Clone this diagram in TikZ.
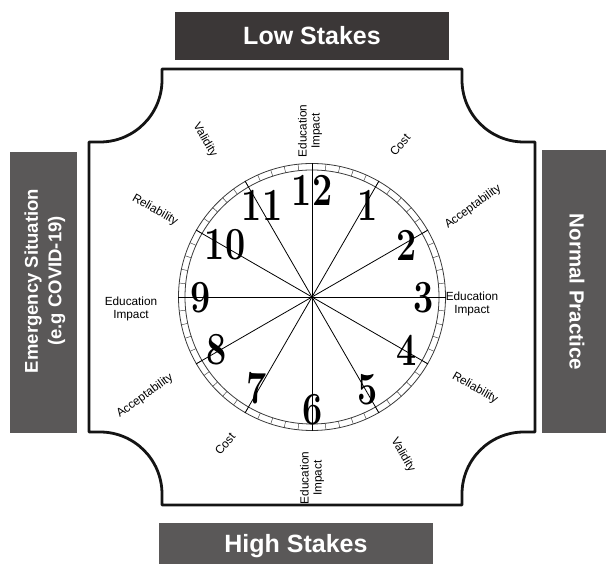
\documentclass[tikz,border=0pt]{standalone}
\usepackage{fontspec}
\usepackage{graphicx}
\newfontfamily\arial{Liberation Sans}
\definecolor{darkbox}{HTML}{3B3737}
\definecolor{greybox}{HTML}{5A5858}
\definecolor{ringcol}{HTML}{3A3A3A}
\tikzset{
  frameline/.style={line width=2.8pt, black!92, line join=round},
  crit/.style={font=\arial\fontsize{11.8}{13}\selectfont, align=center, inner sep=0pt},
  hournum/.style={font=\fontsize{46}{46}\selectfont\bfseries, inner sep=0pt},
  stakebox/.style={draw=none, text=white, font=\arial\bfseries\fontsize{25}{25}\selectfont,
                   text height=18pt, text depth=0pt, inner sep=0pt},
  sidebox/.style={fill=greybox, draw=none, inner sep=0pt},
  sidetext/.style={text=white, font=\arial\bfseries, align=center, inner sep=0pt},
  spoke/.style={line width=0.8pt, black},
  ringline/.style={line width=0.8pt, ringcol},
  ringtick/.style={line width=0.45pt, ringcol},
}
\begin{document}
\begin{tikzpicture}[x=1pt,y=1pt]
\useasboundingbox (0,0) rectangle (606,564);

% outer frame with concave corners
\draw[frameline] (162,495) -- (462,495) -- (462,484)
  arc[start angle=180, end angle=270, radius=62] -- (535,422) -- (535,132) -- (524,132)
  arc[start angle=90, end angle=180, radius=62] -- (462,59) -- (162,59) -- (162,70)
  arc[start angle=0, end angle=90, radius=62] -- (89,132) -- (89,422) -- (100,422)
  arc[start angle=270, end angle=360, radius=62] -- cycle;

% stake boxes
\node[stakebox, fill=darkbox, minimum width=274pt, minimum height=48pt] (low) at (312,528) {Low Stakes};
\node[stakebox, fill=greybox, minimum width=274pt, minimum height=41pt] (high) at (296,20.5) {High Stakes};

% side boxes
\node[sidebox, minimum width=67pt, minimum height=281pt] (leftbox) at (43.5,271.5) {};
\node[sidetext, rotate=90, font=\arial\bfseries\fontsize{18.5}{23.5}\selectfont] (lefttext) at (45,283) {Emergency Situation\\(e.g COVID-19)};
\node[sidebox, minimum width=66pt, minimum height=283pt] (rightbox) at (575,272.5) {};
\node[sidetext, rotate=-90, font=\arial\bfseries\fontsize{20.5}{24}\selectfont] (righttext) at (577,272) {Normal Practice};

% clock
\coordinate (c) at (312,267);
\begin{scope}[shift={(c)}]
  \draw[ringline] (0,0) circle[radius=133.5];
  \draw[ringline] (0,0) circle[radius=127];
  \foreach \i in {0,...,59} \draw[ringtick] (\i*6:127) -- (\i*6:133.5);
  \foreach \i in {0,...,11} \draw[spoke] (0,0) -- (\i*30:134);
\end{scope}

% hour numbers
\node[hournum] (h12) at (312,374) {\scalebox{0.78}[1]{12}};
\node[hournum] (h1)  at (368,359) {\scalebox{0.78}[1]{1}};
\node[hournum] (h2)  at (407,319) {\scalebox{0.78}[1]{2}};
\node[hournum] (h3)  at (424,266) {\scalebox{0.78}[1]{3}};
\node[hournum] (h4)  at (407,214) {\scalebox{0.78}[1]{4}};
\node[hournum] (h5)  at (368,174) {\scalebox{0.78}[1]{5}};
\node[hournum] (h6)  at (313,154) {\scalebox{0.78}[1]{6}};
\node[hournum] (h7)  at (257,176) {\scalebox{0.78}[1]{7}};
\node[hournum] (h8)  at (217,214) {\scalebox{0.78}[1]{8}};
\node[hournum] (h9)  at (201,266) {\scalebox{0.78}[1]{9}};
\node[hournum] (h10) at (225,319) {\scalebox{0.78}[1]{10}};
\node[hournum] (h11) at (262,359) {\scalebox{0.78}[1]{11}};

% criteria labels
\node[crit, rotate=90]  (eit) at (310,433) {Education\\Impact};
\node[crit, rotate=-60] (val1) at (205,424) {Validity};
\node[crit, rotate=50]  (cost1) at (400,419) {Cost};
\node[crit, rotate=36]  (acc1) at (473,357) {Acceptability};
\node[crit, rotate=-30] (rel1) at (155,354) {Reliability};
\node[crit]             (eil) at (131,255) {Education\\Impact};
\node[crit]             (eir) at (472,260) {Education\\Impact};
\node[crit, rotate=36]  (acc2) at (145,168) {Acceptability};
\node[crit, rotate=50]  (cost2) at (225,120) {Cost};
\node[crit, rotate=-30] (rel2) at (475,176) {Reliability};
\node[crit, rotate=-60] (val2) at (403,109) {Validity};
\node[crit, rotate=90]  (eib) at (312,86) {Education\\Impact};
\end{tikzpicture}
\end{document}
